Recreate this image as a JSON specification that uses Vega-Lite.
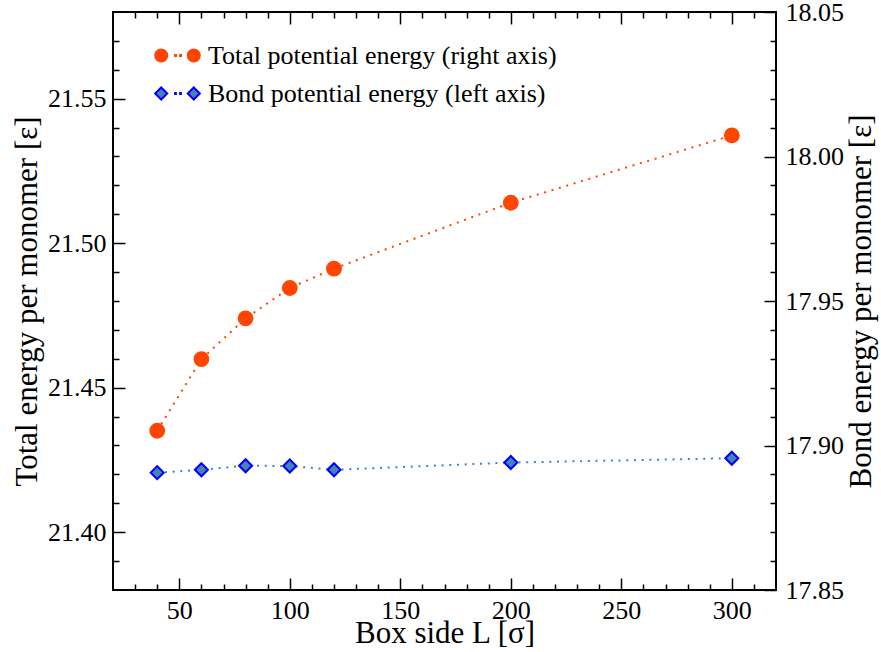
{
  "$schema": "https://vega.github.io/schema/vega-lite/v6.json",
  "autosize": {"type": "none"},
  "width": 663,
  "height": 578,
  "padding": {"left": 113, "top": 12, "right": 105, "bottom": 62},
  "background": "white",
  "config": {
    "view": {"stroke": "black", "strokeWidth": 2}
  },
  "data": {
    "values": [
      {"L": 40, "series": "Total potential energy (right axis)", "energy": 21.4351},
      {"L": 60, "series": "Total potential energy (right axis)", "energy": 21.4599},
      {"L": 80, "series": "Total potential energy (right axis)", "energy": 21.474},
      {"L": 100, "series": "Total potential energy (right axis)", "energy": 21.4845},
      {"L": 120, "series": "Total potential energy (right axis)", "energy": 21.4912},
      {"L": 200, "series": "Total potential energy (right axis)", "energy": 21.514},
      {"L": 300, "series": "Total potential energy (right axis)", "energy": 21.5373},
      {"L": 40, "series": "Bond potential energy (left axis)", "energy": 17.8906},
      {"L": 60, "series": "Bond potential energy (left axis)", "energy": 17.8916},
      {"L": 80, "series": "Bond potential energy (left axis)", "energy": 17.893},
      {"L": 100, "series": "Bond potential energy (left axis)", "energy": 17.8929},
      {"L": 120, "series": "Bond potential energy (left axis)", "energy": 17.8916},
      {"L": 200, "series": "Bond potential energy (left axis)", "energy": 17.8941},
      {"L": 300, "series": "Bond potential energy (left axis)", "energy": 17.8956}
    ]
  },
  "layer": [
    {
      "transform": [{"filter": "datum.series === 'Total potential energy (right axis)'"}],
      "mark": {"type": "line", "color": "#ff4500", "strokeWidth": 2, "strokeDash": [2, 5.7]},
      "encoding": {
        "x": {"field": "L", "type": "quantitative", "scale": {"domain": [20, 320], "nice": false, "zero": false},
          "axis": {"orient": "bottom", "values": [50, 100, 150, 200, 250, 300], "grid": false, "domain": false, "tickColor": "black", "tickWidth": 1.5, "offset": -12, "tickSize": 12, "labels": false, "title": null}},
        "y": {"field": "energy", "type": "quantitative", "scale": {"domain": [21.38, 21.58], "nice": false, "zero": false},
          "axis": {"orient": "left", "values": [21.4, 21.45, 21.5, 21.55], "grid": false, "domain": false, "tickColor": "black", "tickWidth": 1.5, "offset": -12, "tickSize": 12, "labels": false, "title": null}}
      }
    },
    {
      "transform": [{"filter": "datum.series === 'Total potential energy (right axis)'"}],
      "mark": {"type": "point", "shape": "circle", "filled": true, "size": 250, "opacity": 1, "strokeWidth": 0, "color": "#ff4500"},
      "encoding": {
        "x": {"field": "L", "type": "quantitative", "scale": {"domain": [20, 320], "nice": false, "zero": false},
          "axis": {"orient": "bottom", "values": [30, 40, 60, 70, 80, 90, 110, 120, 130, 140, 160, 170, 180, 190, 210, 220, 230, 240, 260, 270, 280, 290, 310], "grid": false, "domain": false, "tickColor": "black", "tickWidth": 1.5, "offset": -6, "tickSize": 6, "labels": false, "title": null}},
        "y": {"field": "energy", "type": "quantitative", "scale": {"domain": [21.38, 21.58], "nice": false, "zero": false},
          "axis": {"orient": "left", "values": [21.39, 21.41, 21.42, 21.43, 21.44, 21.46, 21.47, 21.48, 21.49, 21.51, 21.52, 21.53, 21.54, 21.56, 21.57], "grid": false, "domain": false, "tickColor": "black", "tickWidth": 1.5, "offset": -6, "tickSize": 6, "labels": false, "title": null}}
      }
    },
    {
      "transform": [{"filter": "datum.series === 'Bond potential energy (left axis)'"}],
      "mark": {"type": "line", "color": "#4682b4", "strokeWidth": 2, "strokeDash": [2, 5.7]},
      "encoding": {
        "x": {"field": "L", "type": "quantitative", "scale": {"domain": [20, 320], "nice": false, "zero": false},
          "axis": {"orient": "top", "values": [50, 100, 150, 200, 250, 300], "grid": false, "domain": false, "tickColor": "black", "tickWidth": 1.5, "offset": -12, "tickSize": 12, "labels": false, "title": null}},
        "y": {"field": "energy", "type": "quantitative", "scale": {"domain": [17.85, 18.05], "nice": false, "zero": false},
          "axis": {"orient": "right", "values": [17.85, 17.9, 17.95, 18.0, 18.05], "grid": false, "domain": false, "tickColor": "black", "tickWidth": 1.5, "offset": -12, "tickSize": 12, "labels": false, "title": null}}
      }
    },
    {
      "transform": [{"filter": "datum.series === 'Bond potential energy (left axis)'"}],
      "mark": {"type": "point", "shape": "diamond", "filled": true, "size": 170, "opacity": 1, "fill": "#4682b4", "stroke": "#0000ff", "strokeWidth": 2},
      "encoding": {
        "x": {"field": "L", "type": "quantitative", "scale": {"domain": [20, 320], "nice": false, "zero": false},
          "axis": {"orient": "top", "values": [30, 40, 60, 70, 80, 90, 110, 120, 130, 140, 160, 170, 180, 190, 210, 220, 230, 240, 260, 270, 280, 290, 310], "grid": false, "domain": false, "tickColor": "black", "tickWidth": 1.5, "offset": -6, "tickSize": 6, "labels": false, "title": null}},
        "y": {"field": "energy", "type": "quantitative", "scale": {"domain": [17.85, 18.05], "nice": false, "zero": false},
          "axis": {"orient": "right", "values": [17.86, 17.87, 17.88, 17.89, 17.91, 17.92, 17.93, 17.94, 17.96, 17.97, 17.98, 17.99, 18.01, 18.02, 18.03, 18.04], "grid": false, "domain": false, "tickColor": "black", "tickWidth": 1.5, "offset": -6, "tickSize": 6, "labels": false, "title": null}}
      }
    },
    {
      "transform": [{"filter": "datum.L < 0"}],
      "mark": {"type": "point", "filled": true, "opacity": 1, "strokeWidth": 2},
      "encoding": {
        "x": {"field": "L", "type": "quantitative", "scale": {"domain": [20, 320], "nice": false, "zero": false},
          "axis": {"orient": "bottom", "values": [50, 100, 150, 200, 250, 300], "grid": false, "domain": false, "ticks": false, "labelPadding": 7, "labelFont": "Liberation Serif", "labelFontSize": 26, "title": "Box side L [σ]", "titleFont": "Liberation Serif", "titleFontSize": 31, "titleFontWeight": 400, "titlePadding": -5}},
        "y": {"field": "energy", "type": "quantitative", "scale": {"domain": [21.38, 21.58], "nice": false, "zero": false},
          "axis": {"orient": "left", "values": [21.4, 21.45, 21.5, 21.55], "format": ".2f", "grid": false, "domain": false, "ticks": false, "labelPadding": 7, "labelFont": "Liberation Serif", "labelFontSize": 26, "title": "Total energy per monomer [ε]", "titleFont": "Liberation Serif", "titleFontSize": 31, "titleFontWeight": 400, "titlePadding": 4.5}},
        "fill": {"field": "series", "type": "nominal",
          "scale": {"domain": ["Total potential energy (right axis)", "Bond potential energy (left axis)"], "range": ["#ff4500", "#4682b4"]},
          "legend": {"orient": "none", "legendX": 43.5, "legendY": 22.5, "title": null, "padding": 0, "rowPadding": 4, "symbolSize": 1600, "labelOffset": 9.5, "labelFont": "Liberation Serif", "labelFontSize": 26, "labelColor": "black", "labelLimit": 0, "symbolStrokeWidth": 2}},
        "stroke": {"field": "series", "type": "nominal",
          "scale": {"domain": ["Total potential energy (right axis)", "Bond potential energy (left axis)"], "range": ["#ff4500", "#0000ff"]},
          "legend": {"orient": "none", "legendX": 43.5, "legendY": 22.5, "title": null, "padding": 0, "rowPadding": 4, "symbolSize": 1600, "labelOffset": 9.5, "labelFont": "Liberation Serif", "labelFontSize": 26, "labelColor": "black", "labelLimit": 0, "symbolStrokeWidth": 2}},
        "shape": {"field": "series", "type": "nominal",
          "scale": {"domain": ["Total potential energy (right axis)", "Bond potential energy (left axis)"],
            "range": ["M -1.115 0 A 0.3 0.3 0 1 0 -0.515 0 A 0.3 0.3 0 1 0 -1.115 0 Z M 0.515 0 A 0.3 0.3 0 1 0 1.115 0 A 0.3 0.3 0 1 0 0.515 0 Z M -0.12 -0.025 L -0.07 -0.025 L -0.07 0.025 L -0.12 0.025 Z M 0.13 -0.025 L 0.18 -0.025 L 0.18 0.025 L 0.13 0.025 Z",
                      "M -1.115 0 L -0.815 -0.3 L -0.515 0 L -0.815 0.3 Z M 0.515 0 L 0.815 -0.3 L 1.115 0 L 0.815 0.3 Z M -0.12 -0.02 L -0.08 -0.02 L -0.08 0.02 L -0.12 0.02 Z M 0.13 -0.02 L 0.17 -0.02 L 0.17 0.02 L 0.13 0.02 Z"]},
          "legend": {"orient": "none", "legendX": 43.5, "legendY": 22.5, "title": null, "padding": 0, "rowPadding": 4, "symbolSize": 1600, "labelOffset": 9.5, "labelFont": "Liberation Serif", "labelFontSize": 26, "labelColor": "black", "labelLimit": 0, "symbolStrokeWidth": 2}}
      }
    },
    {
      "transform": [{"filter": "datum.L < 0"}],
      "mark": {"type": "point", "opacity": 0},
      "encoding": {
        "x": {"field": "L", "type": "quantitative", "scale": {"domain": [20, 320], "nice": false, "zero": false}, "axis": null},
        "y": {"field": "energy", "type": "quantitative", "scale": {"domain": [17.85, 18.05], "nice": false, "zero": false},
          "axis": {"orient": "right", "values": [17.85, 17.9, 17.95, 18.0, 18.05], "format": ".2f", "grid": false, "domain": false, "ticks": false, "labelPadding": 9, "labelFont": "Liberation Serif", "labelFontSize": 26, "title": "Bond energy per monomer [ε]", "titleFont": "Liberation Serif", "titleFontSize": 31, "titleFontWeight": 400, "titleAngle": 270, "titleBaseline": "top", "titlePadding": 2.5}}
      }
    }
  ],
  "resolve": {
    "scale": {"y": "independent"},
    "axis": {"x": "independent", "y": "independent"}
  }
}
